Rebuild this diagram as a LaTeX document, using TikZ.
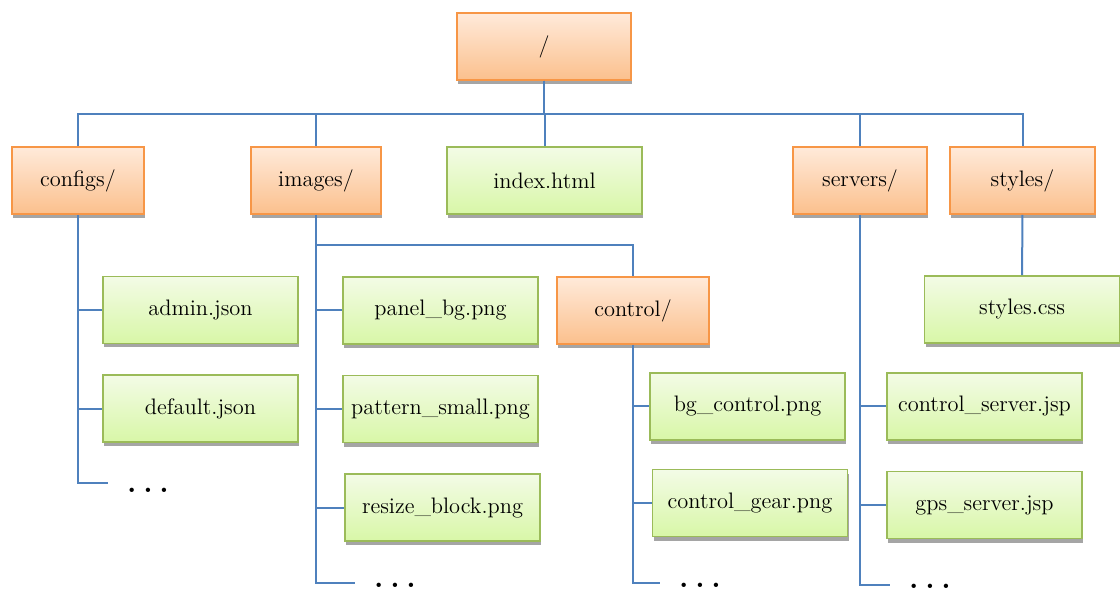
\documentclass[tikz,border=0pt]{standalone}
\usetikzlibrary{positioning, shadows}
\definecolor{lineblue}{HTML}{4F81BD}
\definecolor{folderedge}{HTML}{F79646}
\definecolor{foldertop}{HTML}{FFEADA}
\definecolor{folderbottom}{HTML}{FBC08D}
\definecolor{fileedge}{HTML}{9BBB59}
\definecolor{filetop}{HTML}{F3FBE6}
\definecolor{filebottom}{HTML}{D8F7A7}
\definecolor{shadowgray}{HTML}{A5A5A5}
\tikzset{
    treediagram/.style={x=0.5pt, y=-0.5pt, font=\fontsize{11.2}{13}\selectfont, node distance=15pt},
    entry/.style={draw, line width=0.8pt, minimum height=33.5pt, inner sep=2pt,
        drop shadow={shadow xshift=0.5pt, shadow yshift=-2pt, fill=shadowgray, opacity=1}},
    folder/.style={entry, draw=folderedge, top color=foldertop, bottom color=folderbottom, minimum width=66pt},
    file/.style={entry, draw=fileedge, top color=filetop, bottom color=filebottom, minimum width=97.5pt},
    link/.style={draw=lineblue, line width=1pt},
    % the "more entries" marks at the foot of a folder
    more/.style={font=\fontsize{15}{15}\selectfont\bfseries, inner sep=0pt},
}
\newcommand{\moremark}{.\kern3.4pt.\kern3.4pt.}
\begin{document}
\begin{tikzpicture}[treediagram]
    \useasboundingbox (0,0) rectangle (1120,592);

    \node[folder, minimum width=87pt]   (root)    at (544,46.5)  {/};
    \node[folder]                       (configs) at (78,180.5)  {configs/};
    \node[folder, minimum width=65pt]   (images)  at (316,180.5) {images/};
    \node[file]                         (index)   at (544.5,180.5) {index.html};
    \node[folder, minimum width=67pt]   (servers) at (860,180.5) {servers/};
    \node[folder, minimum width=72.5pt] (styles)  at (1022.5,180.5) {styles/};

    \node[file]                 (admin)   at (200.5,310) {admin.json};
    \node[file, below=of admin] (default) {default.json};

    \node[file]                     (panelbg) at (440.5,310.5) {panel\_bg.png};
    \node[file, below=of panelbg]   (pattern) {pattern\_small.png};
    \node[file, below=of pattern, xshift=1pt] (resize) {resize\_block.png};

    \node[folder, minimum width=76pt] (control)   at (633,310.5) {control/};
    \node[file]                       (bgcontrol) at (747.5,406.5) {bg\_control.png};
    \node[file, below=14pt of bgcontrol, xshift=1.25pt] (gear) {control\_gear.png};

    \node[file]                   (ctlserver) at (984.5,406.5) {control\_server.jsp};
    \node[file, below=of ctlserver] (gps)     {gps\_server.jsp};

    \node[file] (stylescss) at (1022,309.5) {styles.css};

    \coordinate (bus)  at (0,114);
    \coordinate (sub)  at (0,245);
    \coordinate (endA) at (108,483);
    \coordinate (endB) at (355,583);
    \coordinate (endC) at (660,583);
    \coordinate (endD) at (890,585);

    \node[more] (moreA) at (148,490) {\moremark};
    \node[more] (moreB) at (395,585) {\moremark};
    \node[more] (moreC) at (700,585) {\moremark};
    \node[more] (moreD) at (930,586) {\moremark};

    % top level
    \foreach \n in {configs, images, index, servers, styles}
        \draw[link] (root) -- (root |- bus) -| (\n);

    % configs/
    \draw[link] (configs) -- (configs |- endA) -- (endA);
    \foreach \f in {admin, default}
        \draw[link] (configs |- \f) -- (\f);

    % images/
    \draw[link] (images) -- (images |- endB) -- (endB);
    \foreach \f in {panelbg, pattern, resize}
        \draw[link] (images |- \f) -- (\f);
    \draw[link] (images |- sub) -| (control);

    % control/
    \draw[link] (control) -- (control |- endC) -- (endC);
    \foreach \f in {bgcontrol, gear}
        \draw[link] (control |- \f) -- (\f);

    % servers/
    \draw[link] (servers) -- (servers |- endD) -- (endD);
    \foreach \f in {ctlserver, gps}
        \draw[link] (servers |- \f) -- (\f);

    % styles/
    \draw[link] (styles) -- (stylescss);
\end{tikzpicture}
\end{document}
